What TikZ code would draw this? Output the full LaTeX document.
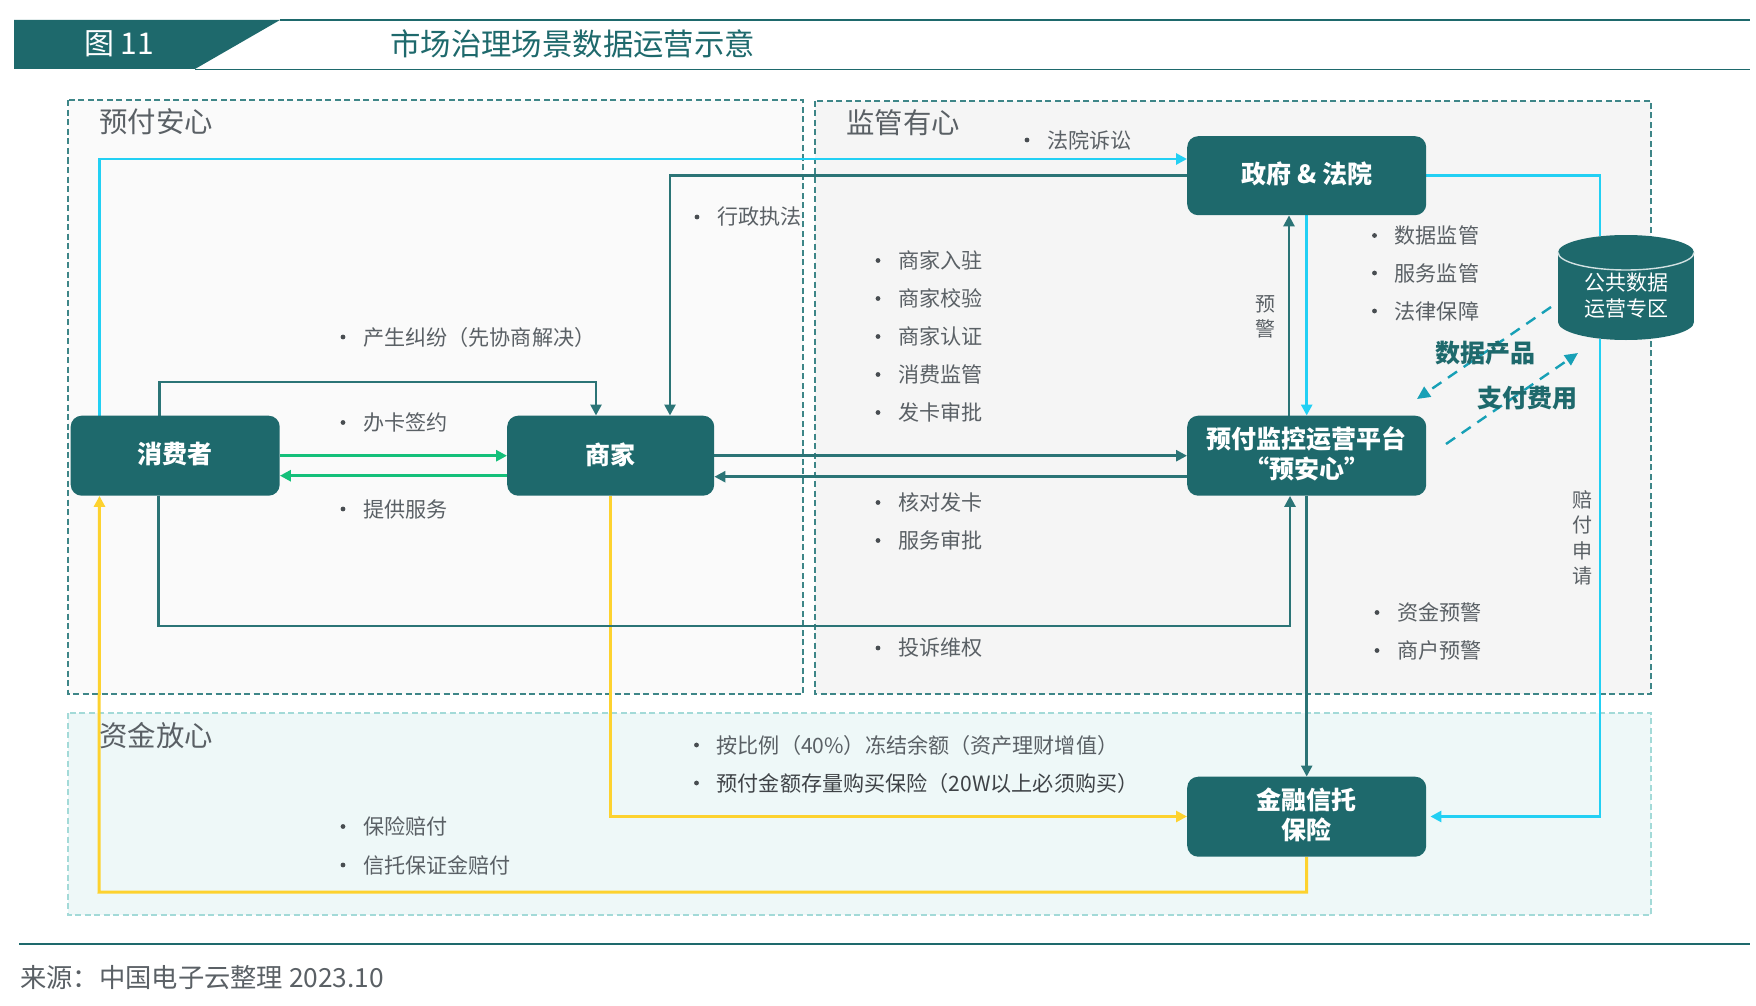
\documentclass[tikz,border=0pt]{standalone}
\usepackage{fontspec}
\setmainfont{Noto Sans CJK SC}
\usetikzlibrary{arrows.meta}
\definecolor{tealdk}{HTML}{1E696C}
\definecolor{tealln}{HTML}{2B7476}
\definecolor{dashdk}{HTML}{3E8688}
\definecolor{dashlt}{HTML}{A3DAD8}
\definecolor{cyanln}{HTML}{22D0F4}
\definecolor{yelln}{HTML}{FDD22F}
\definecolor{grnln}{HTML}{14C07A}
\definecolor{dashcy}{HTML}{17A0B6}
\definecolor{txtgr}{HTML}{5A6065}
\pgfdeclarelayer{bg}
\pgfdeclarelayer{mid}
\pgfsetlayers{bg,mid,main}
\newcommand{\fsz}[1]{\fontsize{#1}{#1}\selectfont}
\newcommand{\lift}[2]{\raisebox{0pt}[\height][\dimexpr\depth+#1\relax]{#2}}
\tikzset{
  x=1pt,y=-1pt,
  box/.style={rectangle,rounded corners=11pt,fill=tealdk,text=white,font=\fontsize{25}{30}\selectfont\bfseries,align=center,inner sep=0pt,minimum height=80pt,anchor=north west},
  lbl/.style={anchor=west,inner sep=0pt,text=txtgr,font=\fsz{21.1}},
  ttl/.style={anchor=west,inner sep=0pt,text=txtgr,font=\fsz{28.4}},
  vlbl/.style={anchor=center,inner sep=0pt,text=txtgr,align=center},
  big/.style={anchor=west,inner sep=0pt,text=tealdk,font=\fsz{25}\bfseries},
  tline/.style={draw=tealln,line width=2.6pt},
  carrow/.style={-{Triangle[length=11pt,width=11pt]}},
  cyl/.style={draw=cyanln,line width=2.8pt},
  yel/.style={draw=yelln,line width=3pt},
  grn/.style={draw=grnln,line width=3pt},
  dsh/.style={draw=dashcy,line width=2.4pt,dash pattern=on 11pt off 8pt,-{Triangle[length=13pt,width=12pt]}},
  panel/.style={line width=2pt,dash pattern=on 6pt off 3.5pt},
}
\newcommand{\bul}[4]{% name, x, y, text
  \fill[txtgr!80!black] (#2-20,#3) circle[radius=2.4];
  \node[lbl] (#1) at (#2,#3) {#4};}
\begin{document}
\begin{tikzpicture}
\useasboundingbox (0,0) rectangle (1756,1006);
% header
\fill[tealdk] (14,20) -- (280,20) -- (195,69) -- (14,69) -- cycle;
\draw[tealdk,line width=1.8pt] (280,20) -- (1750,20);
\draw[tealdk,line width=1.2pt] (195,69.5) -- (1750,69.5);
\node[anchor=west,inner sep=0pt,text=white,font=\fsz{30}] (fig) at (84,44) {图 11};
\node[anchor=west,inner sep=0pt,text=tealdk,font=\fsz{30.4}] (title) at (390,44) {市场治理场景数据运营示意};
% panels
\begin{pgfonlayer}{bg}
\fill[white] (0,0) rectangle (1756,1006);
\filldraw[fill=black!2,draw=dashdk,panel] (68,100.5) rectangle (803,694);
\filldraw[fill=black!4,draw=dashdk,panel] (815,101) rectangle (1651,694);
\filldraw[fill=dashlt!18,draw=dashlt,panel] (68,713) rectangle (1651,915);
\end{pgfonlayer}
\node[ttl] (p1) at (99,122) {预付安心};
\node[ttl] (p2) at (846,123) {监管有心};
\node[ttl] (p3) at (99,736) {资金放心};
% nodes
\node[box,minimum width=209pt] (cons) at (70.5,415.5) {\lift{2.5pt}{消费者}};
\node[box,minimum width=207pt] (merc) at (507,415.5) {\lift{2.5pt}{商家}};
\node[box,minimum width=239pt,minimum height=79pt] (gov) at (1187,136) {\lift{4pt}{政府 \& 法院}};
\node[box,minimum width=239pt] (plat) at (1187,415.5) {预付监控运营平台\\\lift{4pt}{“预安心”}};
\node[box,minimum width=239pt] (fin) at (1187,776.5) {金融信托\\\lift{4pt}{保险}};
% cylinder
\fill[tealdk] (1626,252.5) ellipse[x radius=68,y radius=17.5];
\fill[tealdk] (1558,252.5) rectangle (1694,322);
\fill[tealdk] (1626,322) ellipse[x radius=68,y radius=18];
\draw[white!80!tealdk,line width=1.4pt] (1558,252.5) arc[start angle=180,end angle=0,x radius=68,y radius=17.5];
\node[anchor=center,inner sep=0pt,text=white,font=\fontsize{21}{26}\selectfont,align=center] (db) at (1626.5,295.5) {公共数据\\运营专区};
% connectors
\coordinate (dA) at (1551,307);
\coordinate (dB) at (1417,399);
\coordinate (dC) at (1446,444);
\coordinate (dD) at (1578,353);
\begin{pgfonlayer}{mid}
\draw[cyl,carrow] ([xshift=29pt]cons.north west) |- ([yshift=-23pt]gov.north west);
\draw[tline,carrow] ([yshift=-39.5pt]gov.north west) -| ([xshift=163pt]merc.north west);
\draw[tline,carrow] ([xshift=89pt]cons.north west) |- (596,382) -- ([xshift=89pt]merc.north west);
\draw[grn,carrow] ([yshift=0pt]cons.east) -- ([yshift=0pt]merc.west);
\draw[grn,carrow] ([yshift=-20pt]merc.west) -- ([yshift=-20pt]cons.east);
\draw[tline,carrow] ([yshift=0pt]merc.east) -- ([yshift=0pt]plat.west);
\draw[tline,carrow] ([yshift=-21pt]plat.west) -- ([yshift=-21pt]merc.east);
\draw[yel,carrow] (merc.south) |- ([yshift=-40pt]fin.north west);
\draw[yel,carrow] (fin.south) |- (99,892) -- ([xshift=29pt]cons.south west);
\draw[tline,carrow] ([xshift=88pt]cons.south west) |- (1290,626) -- ([xshift=103pt]plat.south west);
\draw[tline,carrow] (plat.south) -- (fin.north);
\draw[tline,carrow] ([xshift=102pt]plat.north west) -- ([xshift=102pt]gov.south west);
\draw[cyl,carrow] (gov.south) -- (plat.north);
\draw[cyl] ([yshift=-39.5pt]gov.north east) -| (1600,236);
\draw[cyl,carrow] (1600,339) |- ([xshift=4pt,yshift=-40pt]fin.north east);
\draw[dsh] (dA) -- (dB);
\draw[dsh] (dC) -- (dD);
\end{pgfonlayer}
% labels
\node[big] (l1) at (1435,353) {数据产品};
\node[big] (l2) at (1477,398) {支付费用};
\node[vlbl,font=\fontsize{20}{25}\selectfont] (l3) at (1265,317) {预\\警};
\node[vlbl,font=\fontsize{20}{25.3}\selectfont] (l4) at (1582,538) {赔\\付\\申\\请};
\bul{a1}{1047}{140}{法院诉讼}
\bul{a2}{717}{217}{行政执法}
\bul{b1}{898}{260.5}{商家入驻}
\bul{b2}{898}{298.5}{商家校验}
\bul{b3}{898}{336.5}{商家认证}
\bul{b4}{898}{374.5}{消费监管}
\bul{b5}{898}{412.5}{发卡审批}
\bul{b6}{898}{502.5}{核对发卡}
\bul{b7}{898}{540.5}{服务审批}
\bul{b8}{898}{648}{投诉维权}
\bul{c1}{1394.5}{235.5}{数据监管}
\bul{c2}{1394.5}{273}{服务监管}
\bul{c3}{1394.5}{311}{法律保障}
\bul{c4}{1397}{612.5}{资金预警}
\bul{c5}{1397}{650.5}{商户预警}
\bul{d1}{363}{337}{产生纠纷（先协商解决）}
\bul{d2}{363}{422.5}{办卡签约}
\bul{d3}{363}{509}{提供服务}
\bul{e1}{716.5}{745}{按比例（40\%）冻结余额（资产理财增值）}
\bul{e2}{716.5}{783}{\textcolor{txtgr!70!black}{预付金额存量购买保险（20W以上必须购买）}}
\bul{e3}{363}{826.5}{保险赔付}
\bul{e4}{363}{865}{信托保证金赔付}
% source
\draw[tealdk,line width=1.2pt] (19,944) -- (1750,944);
\node[anchor=west,inner sep=0pt,text=txtgr,font=\fsz{26.3}] (src) at (20,978) {来源：中国电子云整理 2023.10};
\end{tikzpicture}
\end{document}
